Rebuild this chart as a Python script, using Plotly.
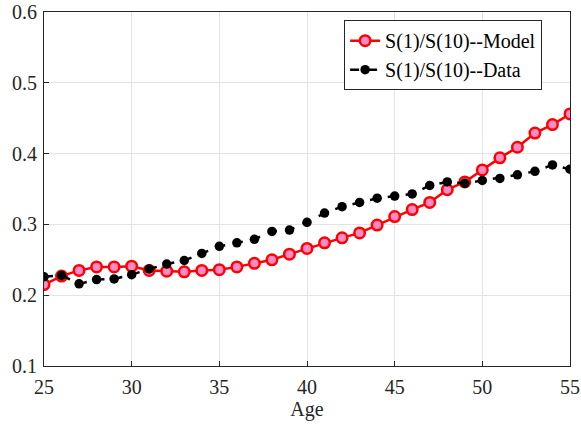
import plotly.graph_objects as go

ages = list(range(25, 56))
model = [0.215, 0.227, 0.235, 0.240, 0.240, 0.241, 0.235, 0.234, 0.233, 0.235,
         0.236, 0.240, 0.245, 0.250, 0.258, 0.266, 0.274, 0.281, 0.288, 0.299,
         0.311, 0.321, 0.331, 0.349, 0.360, 0.377, 0.394, 0.409, 0.429, 0.441, 0.456]
data = [0.226, 0.228, 0.216, 0.222, 0.223, 0.229, 0.237, 0.244, 0.249, 0.259,
        0.269, 0.274, 0.279, 0.290, 0.292, 0.303, 0.316, 0.325, 0.331, 0.337,
        0.340, 0.343, 0.355, 0.360, 0.358, 0.362, 0.365, 0.370, 0.375, 0.384, 0.378]

FONT = "Liberation Serif"

fig = go.Figure()
fig.add_trace(go.Scatter(
    x=ages, y=model, name="S(1)/S(10)--Model", mode="lines+markers",
    line=dict(color="#ff0000", width=2.5),
    marker=dict(symbol="circle", size=10.5, color="#ff8ac4",
                line=dict(color="#ff0000", width=2.5))))
fig.add_trace(go.Scatter(
    x=ages, y=data, name="S(1)/S(10)--Data", mode="lines+markers",
    line=dict(color="#000000", width=2.5, dash="dash"),
    marker=dict(symbol="circle", size=9.5, color="#000000")))

axis_common = dict(showline=True, linecolor="#262626", linewidth=1, mirror=True,
                   ticks="inside", ticklen=5, tickcolor="#262626",
                   showgrid=True, gridcolor="#e3e3e3", gridwidth=1, zeroline=False,
                   ticklabeloverflow="allow",
                   tickfont=dict(family=FONT, size=20, color="#262626"))

fig.update_xaxes(range=[25, 55], dtick=5, ticklabelstandoff=3,
                 title=dict(text="Age", standoff=0,
                            font=dict(family=FONT, size=20, color="#262626")),
                 **axis_common)
fig.update_yaxes(range=[0.1, 0.6], dtick=0.1, tickformat=".1f", ticklabelstandoff=2,
                 **axis_common)

fig.update_layout(
    width=581, height=424,
    margin=dict(l=44, r=11, t=12, b=58, autoexpand=False),
    plot_bgcolor="white", paper_bgcolor="white",
    font=dict(family=FONT, size=20, color="#000000"),
    legend=dict(x=0.947, y=0.977, xanchor="right", yanchor="top",
                bgcolor="white", bordercolor="#262626", borderwidth=1,
                font=dict(family=FONT, size=20, color="#000000"),
                tracegroupgap=0, itemwidth=30),
)
fig.write_html("out.html", config={"displayModeBar": False},
               post_script="document.body.style.margin='0';document.body.style.overflow='hidden';")
